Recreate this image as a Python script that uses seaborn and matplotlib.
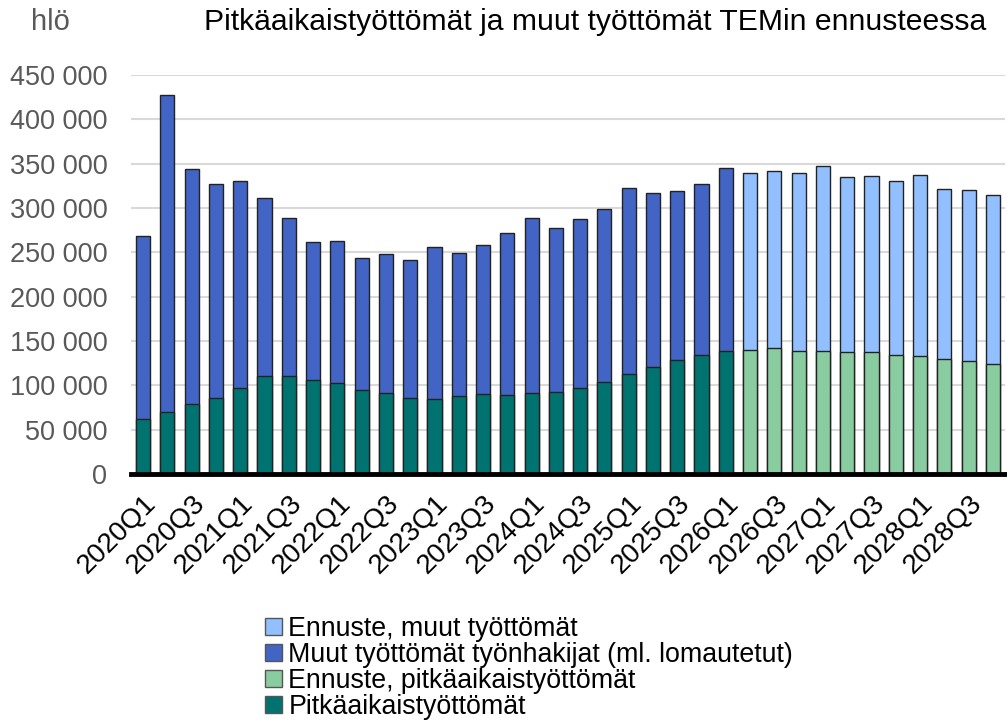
import matplotlib
matplotlib.use("Agg")
import matplotlib.pyplot as plt
import matplotlib.ticker as mticker
from matplotlib.patches import Patch
import seaborn as sns
import pandas as pd

# ---- data (persons) ----
quarters = [f"{y}Q{q}" for y in range(2020, 2029) for q in range(1, 5)]
total_unemployed = [
    268000, 427000, 343500, 326600,
    330000, 311500, 289000, 261500,
    262600, 243800, 247600, 241500,
    256000, 248700, 258500, 271600,
    288600, 277700, 287400, 298700,
    322800, 316400, 319000, 326600,
    344600, 340000, 341300, 339000,
    347300, 334800, 335600, 331000,
    336700, 321700, 320200, 314500,
]
long_term = [
    62500, 70000, 78600, 85800,
    97000, 110000, 111000, 106000,
    102700, 95200, 91800, 85800,
    84700, 87700, 90300, 89200,
    91000, 92900, 97000, 103500,
    112900, 120400, 128700, 134000,
    139200, 139600, 141800, 139200,
    139200, 137300, 138000, 134700,
    133200, 130200, 128000, 123800,
]
forecast_start = "2026Q2"

label_other_fc = "Ennuste, muut työttömät"
label_other = "Muut työttömät työnhakijat (ml. lomautetut)"
label_long_fc = "Ennuste, pitkäaikaistyöttömät"
label_long = "Pitkäaikaistyöttömät"

colors = {
    label_other_fc: "#91BFFF",
    label_other: "#4264C4",
    label_long_fc: "#88CCA0",
    label_long: "#007370",
}

fc_idx = quarters.index(forecast_start)
df = pd.DataFrame({
    "quarter": quarters,
    "total": total_unemployed,
    "long": long_term,
})
df["other_kind"] = [label_other if i < fc_idx else label_other_fc for i in range(len(df))]
df["long_kind"] = [label_long if i < fc_idx else label_long_fc for i in range(len(df))]

# ---- figure ----
sns.set_theme(style="white")
plt.rcParams["font.family"] = ["Liberation Sans", "DejaVu Sans"]
plt.rcParams["text.color"] = "black"

fig = plt.figure(figsize=(10.07, 7.24), dpi=100)
ax = fig.add_axes([131 / 1007, (724 - 474) / 724, (1005 - 131) / 1007, (474 - 75) / 724])

bar_kw = dict(dodge=False, width=0.58, edgecolor="#222222", linewidth=1.0,
              legend=False, ax=ax, saturation=1, zorder=3)
sns.barplot(data=df, x="quarter", y="total", hue="other_kind", palette=colors,
            order=quarters, **bar_kw)
sns.barplot(data=df, x="quarter", y="long", hue="long_kind", palette=colors,
            order=quarters, **bar_kw)

ax.set_ylim(0, 450000)
ax.set_xlim(-0.5, len(quarters) - 0.5)
ax.yaxis.set_major_locator(mticker.MultipleLocator(50000))
ax.yaxis.set_major_formatter(mticker.FuncFormatter(lambda v, p: f"{int(v):,}".replace(",", " ")))
ax.grid(axis="y", color="#d9d9d9", linewidth=1.5, zorder=0)
ax.set_axisbelow(True)
for s in ["top", "right", "left"]:
    ax.spines[s].set_visible(False)
ax.spines["bottom"].set_color("black")
ax.spines["bottom"].set_linewidth(3.5)
ax.spines["bottom"].set_zorder(5)

ax.set_xticks(range(0, len(quarters), 2))
ax.set_xticklabels(quarters[::2], rotation=45, ha="right", rotation_mode="anchor",
                   fontsize=20, color="black")
ax.tick_params(axis="x", length=0, pad=12)
ax.tick_params(axis="y", length=0, pad=17, labelsize=19.5, labelcolor="#595959")
ax.set_xlabel("")
ax.set_ylabel("")

fig.text(31 / 1007, 1 - 22 / 724, "hlö", fontsize=21, color="#595959", va="center", ha="left")
fig.text(595 / 1007, 1 - 22 / 724, "Pitkäaikaistyöttömät ja muut työttömät TEMin ennusteessa",
         fontsize=21.7, color="black", va="center", ha="center")

handles = [Patch(facecolor=colors[k], edgecolor="#555555", linewidth=1.0)
           for k in [label_other_fc, label_other, label_long_fc, label_long]]
labels = [label_other_fc, label_other, label_long_fc, label_long]
leg = fig.legend(handles, labels, loc="upper left", bbox_to_anchor=(265 / 1007, 1 - 616 / 724),
                 frameon=False, fontsize=19.3, handlelength=0.62, handleheight=0.62,
                 handletextpad=0.25, labelspacing=0.0, borderaxespad=0, borderpad=0)
for t in leg.get_texts():
    t.set_color("black")

fig.savefig("out.png", dpi=100)
